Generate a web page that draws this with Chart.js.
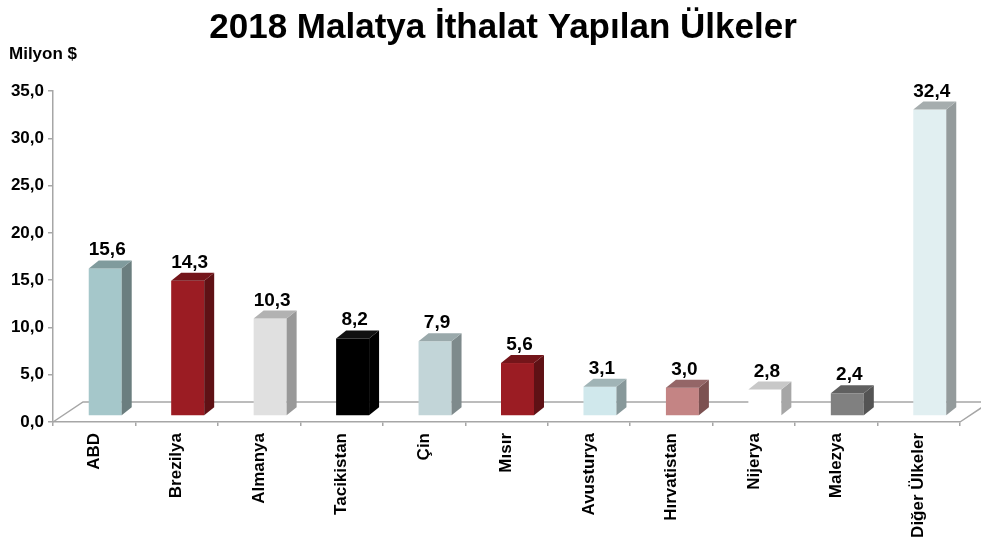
<!DOCTYPE html>
<html>
<head>
<meta charset="utf-8">
<script src="https://cdn.jsdelivr.net/npm/chart.js@4/dist/chart.umd.min.js"></script>
<style>
  html, body { margin: 0; padding: 0; background: #ffffff; }
  #wrap { width: 981px; height: 546px; position: relative; }
</style>
</head>
<body>
<div id="wrap"><canvas id="c" width="981" height="546"></canvas></div>
<script>
// ---- data ----
const titleText = '2018 Malatya İthalat Yapılan Ülkeler';
const unitLabel = 'Milyon $';
const categories = ['ABD', 'Brezilya', 'Almanya', 'Tacikistan', 'Çin', 'Mısır', 'Avusturya', 'Hırvatistan', 'Nijerya', 'Malezya', 'Diğer Ülkeler'];
const values = [15.6, 14.3, 10.3, 8.2, 7.9, 5.6, 3.1, 3.0, 2.8, 2.4, 32.4];
const yMin = 0, yMax = 35, yStep = 5;

// ---- styles ----
const frontColors = ['#a5c7ca', '#9b1c23', '#e0e0e0', '#000000', '#c2d5d8', '#9b1c23', '#d0e8ec', '#c48484', '#ffffff', '#808080', '#e1eff1'];
const sideColors  = ['#6b7e7f', '#5f1115', '#999999', '#000000', '#7e8a8c', '#5f1115', '#87989a', '#7c5151', '#a6a6a6', '#545454', '#949b9c'];
const topColors   = ['#809b9d', '#74151a', '#b2b2b2', '#111111', '#9aa9ab', '#74151a', '#a0b4b6', '#946667', '#c8c8c8', '#606060', '#a6adae'];
const axisColor = '#a6a6a6';
const fmt = v => v.toFixed(1).replace('.', ',');

// 3D geometry offsets (px)
const FLOOR_DX = 30, FLOOR_DY = 20;   // floor depth
const BAR_OX = 11, BAR_OY = 6;        // bar front offset from floor front
const BAR_DX = 10, BAR_DY = 8;        // bar depth

const floorPlugin = {
  id: 'floor3d',
  beforeDatasetsDraw(chart) {
    const { ctx, chartArea: a } = chart;
    const y0 = chart.scales.y.getPixelForValue(0);
    ctx.save();
    ctx.strokeStyle = axisColor;
    ctx.lineWidth = 1.5;
    ctx.beginPath();
    ctx.moveTo(a.left, y0);
    ctx.lineTo(a.left + FLOOR_DX, y0 - FLOOR_DY);
    ctx.lineTo(a.right + FLOOR_DX, y0 - FLOOR_DY);
    ctx.lineTo(a.right, y0);
    ctx.stroke();
    ctx.restore();
  }
};

const bars3dPlugin = {
  id: 'bars3d',
  afterDatasetsDraw(chart) {
    const { ctx } = chart;
    const meta = chart.getDatasetMeta(0);
    ctx.save();
    meta.data.forEach((el, i) => {
      const w = el.width;
      const x0 = el.x - w / 2 + BAR_OX;
      const x1 = el.x + w / 2 + BAR_OX;
      const yt = el.y - BAR_OY;
      const yb = el.base - BAR_OY;
      // front
      ctx.fillStyle = frontColors[i];
      ctx.fillRect(x0, yt, x1 - x0, yb - yt);
      // side
      ctx.fillStyle = sideColors[i];
      ctx.beginPath();
      ctx.moveTo(x1, yt);
      ctx.lineTo(x1 + BAR_DX, yt - BAR_DY);
      ctx.lineTo(x1 + BAR_DX, yb - BAR_DY);
      ctx.lineTo(x1, yb);
      ctx.closePath();
      ctx.fill();
      // top
      ctx.fillStyle = topColors[i];
      ctx.beginPath();
      ctx.moveTo(x0, yt);
      ctx.lineTo(x0 + BAR_DX, yt - BAR_DY);
      ctx.lineTo(x1 + BAR_DX, yt - BAR_DY);
      ctx.lineTo(x1, yt);
      ctx.closePath();
      ctx.fill();
      // value label
      ctx.fillStyle = '#000000';
      ctx.font = 'bold 19px "Liberation Sans", Arial, sans-serif';
      ctx.textAlign = 'center';
      ctx.textBaseline = 'alphabetic';
      ctx.fillText(fmt(values[i]), (x0 + x1) / 2 + 2, yt - BAR_DY - 5);
    });
    ctx.restore();
  }
};

const textPlugin = {
  id: 'texts',
  afterDraw(chart) {
    const { ctx } = chart;
    ctx.save();
    ctx.fillStyle = '#000000';
    ctx.textAlign = 'center';
    ctx.textBaseline = 'alphabetic';
    ctx.font = 'bold 35px "Liberation Sans", Arial, sans-serif';
    ctx.fillText(titleText, 503, 38);
    ctx.textAlign = 'left';
    ctx.font = 'bold 17px "Liberation Sans", Arial, sans-serif';
    ctx.fillText(unitLabel, 9, 59);
    ctx.restore();
  }
};

new Chart(document.getElementById('c'), {
  type: 'bar',
  data: {
    labels: categories,
    datasets: [{
      data: values,
      backgroundColor: 'rgba(0,0,0,0)',
      borderWidth: 0,
      categoryPercentage: 1.0,
      barPercentage: 0.4
    }]
  },
  options: {
    responsive: false,
    animation: false,
    devicePixelRatio: 1,
    layout: { padding: { top: 91, right: 21, left: 0, bottom: 0 } },
    plugins: {
      legend: { display: false },
      tooltip: { enabled: false },
      title: { display: false }
    },
    scales: {
      x: {
        offset: true,
        grid: {
          display: true, offset: true, drawOnChartArea: false, drawTicks: true,
          tickLength: 4, color: axisColor, lineWidth: 1.5
        },
        border: { display: true, color: axisColor, width: 1.5 },
        ticks: {
          color: '#000000',
          font: { family: '"Liberation Sans", Arial, sans-serif', size: 17, weight: 'bold' },
          maxRotation: 90, minRotation: 90, autoSkip: false, padding: 7
        },
        afterFit(scale) { scale.height = 124; }
      },
      y: {
        min: yMin, max: yMax,
        grid: {
          display: true, drawOnChartArea: false, drawTicks: true,
          tickLength: 5, color: axisColor, lineWidth: 1.5
        },
        border: { display: true, color: axisColor, width: 1.5 },
        ticks: {
          stepSize: yStep,
          color: '#000000',
          font: { family: '"Liberation Sans", Arial, sans-serif', size: 17, weight: 'bold' },
          padding: 4,
          callback: v => fmt(v)
        },
        afterFit(scale) { scale.width = 53; }
      }
    }
  },
  plugins: [floorPlugin, bars3dPlugin, textPlugin]
});
</script>
</body>
</html>
